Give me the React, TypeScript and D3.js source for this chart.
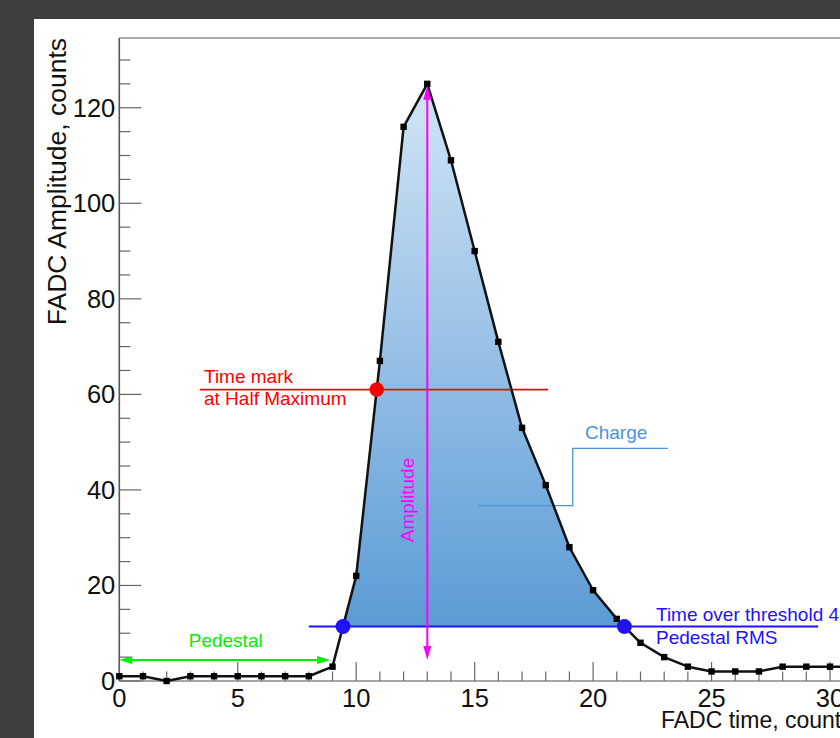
import * as d3 from "d3";

// FADC samples (time bins and amplitude in counts)
const fadcTime = [0, 1, 2, 3, 4, 5, 6, 7, 8, 9, 10, 11, 12, 13, 14, 15, 16, 17, 18, 19, 20, 21, 22, 23, 24, 25, 26, 27, 28, 29, 30, 31];
const fadcAmp = [1, 1, 0, 1, 1, 1, 1, 1, 1, 3, 22, 67, 116, 125, 109, 90, 71, 53, 41, 28, 19, 13, 8, 5, 3, 2, 2, 2, 3, 3, 3, 3];

const xTickLabels = [0, 5, 10, 15, 20, 25, 30];
const yTickLabels = [0, 20, 40, 60, 80, 100, 120];

// annotation levels (data units)
const pedestalLevel = 4.4;
const pedestalEnd = 8.9;
const thresholdLevel = 11.4;
const thresholdSpan = [8, 29.5];
const halfMaxLevel = 61;
const halfMaxSpan = [3.4, 18.1];
const amplitudeBottom = 4.4;
const chargeLeader = [
  [15.14, 36.7],
  [19.14, 36.7],
  [19.14, 48.7],
  [23.15, 48.7],
];

const W = 840;
const H = 738;
const font = "'Liberation Sans', Arial, Helvetica, sans-serif";

const pts = fadcTime.map((t, i) => ({ t, v: fadcAmp[i] }));

// find where the polyline crosses a level, searching from index i0 in direction dir
function crossing(level: number, i0: number, dir: number) {
  for (let i = i0; i + dir >= 0 && i + dir < pts.length; i += dir) {
    const a = pts[i], b = pts[i + dir];
    if ((a.v - level) * (b.v - level) <= 0 && a.v !== b.v) {
      const f = (level - a.v) / (b.v - a.v);
      return a.t + f * (b.t - a.t);
    }
  }
  return 0;
}

function arrowHead(tx: number, ty: number, dx: number, dy: number, len: number, hw: number) {
  const bx = tx - dx * len, by = ty - dy * len;
  const px = -dy * hw, py = dx * hw;
  return `${tx},${ty} ${bx + px},${by + py} ${bx - px},${by - py}`;
}

export default function App() {
  const x = d3.scaleLinear().domain([0, 32]).range([119.3, 877.4]);
  const y = d3.scaleLinear().domain([0, 134.6]).range([681, 38]);

  const peakIdx = fadcAmp.indexOf(d3.max(fadcAmp) as number);
  const thrLeft = crossing(thresholdLevel, peakIdx, -1);
  const thrRight = crossing(thresholdLevel, peakIdx, 1);
  const halfLeft = crossing(halfMaxLevel, peakIdx, -1);

  const line = d3
    .line<{ t: number; v: number }>()
    .x((d) => x(d.t))
    .y((d) => y(d.v));

  const area = d3
    .area<{ t: number; v: number }>()
    .x((d) => x(d.t))
    .y0(y(thresholdLevel))
    .y1((d) => y(d.v));

  const xMinor = d3.range(0, 33, 1);
  const yMinor = d3.range(0, 135, 5);

  const axisColor = "#666";
  const magenta = "#ff00ff";
  const blue = "#2211ff";
  const red = "#ff0000";
  const green = "#00ee00";
  const chargeBlue = "#4a94dc";

  return (
    <svg width={W} height={H} style={{ position: "absolute", left: 0, top: 0, display: "block" }}>
      <defs>
        <linearGradient id="chargeFill" gradientUnits="userSpaceOnUse" x1={0} y1={y(125)} x2={0} y2={y(thresholdLevel)}>
          <stop offset="0%" stopColor="#d2e5f6" />
          <stop offset="100%" stopColor="#5b9bd5" />
        </linearGradient>
        <clipPath id="aboveThr">
          <rect x={x(thrLeft)} y={0} width={x(thrRight) - x(thrLeft)} height={y(thresholdLevel)} />
        </clipPath>
      </defs>

      <rect x={0} y={0} width={W} height={H} fill="#3f3f3f" />
      <rect x={34} y={19} width={W - 34} height={H - 19} fill="#ffffff" />

      {/* charge area */}
      <path d={area(pts) ?? ""} fill="url(#chargeFill)" clipPath="url(#aboveThr)" />

      {/* frame */}
      <line x1={x(0)} x2={W} y1={38} y2={38} stroke="#aaa" strokeWidth={2} />
      <line x1={x(0)} x2={x(0)} y1={38} y2={y(0)} stroke="#555" strokeWidth={1.6} />
      <line x1={x(0)} x2={W} y1={y(0)} y2={y(0)} stroke="#888" strokeWidth={1.6} />

      {/* y ticks */}
      {yMinor.map((v) => (
        <line
          key={"ym" + v}
          x1={x(0)}
          x2={x(0) + (v % 20 === 0 ? 22 : 11)}
          y1={y(v)}
          y2={y(v)}
          stroke={axisColor}
          strokeWidth={1.2}
        />
      ))}
      {yTickLabels.map((v) => (
        <text
          key={"yl" + v}
          x={x(0) - 4}
          y={y(v) + 9}
          textAnchor="end"
          fontFamily={font}
          fontSize={25.5}
          fill="#111"
        >
          {v}
        </text>
      ))}

      {/* x ticks */}
      {xMinor.map((t) => (
        <line
          key={"xm" + t}
          x1={x(t)}
          x2={x(t)}
          y1={y(0)}
          y2={y(0) - (t % 5 === 0 ? 19 : 9.5)}
          stroke={axisColor}
          strokeWidth={1.2}
        />
      ))}
      {xTickLabels.map((t) => (
        <text key={"xl" + t} x={x(t)} y={707} textAnchor="middle" fontFamily={font} fontSize={25.5} fill="#111">
          {t}
        </text>
      ))}

      {/* axis titles */}
      <text
        transform="translate(66,38) rotate(-90)"
        textAnchor="end"
        fontFamily={font}
        fontSize={26.5}
        fill="#111"
      >
        FADC Amplitude, counts
      </text>
      <text x={661} y={728} fontFamily={font} fontSize={23} fill="#111">
        FADC time, counts
      </text>

      {/* pedestal arrow */}
      <line x1={x(0) + 6} x2={x(pedestalEnd) - 6} y1={y(pedestalLevel)} y2={y(pedestalLevel)} stroke={green} strokeWidth={2} />
      <polygon points={arrowHead(x(0), y(pedestalLevel), -1, 0, 13, 4)} fill={green} />
      <polygon points={arrowHead(x(pedestalEnd), y(pedestalLevel), 1, 0, 13, 4)} fill={green} />
      <text x={(x(0) + x(pedestalEnd)) / 2 + 1} y={647} textAnchor="middle" fontFamily={font} fontSize={19} fill={green}>
        Pedestal
      </text>

      {/* threshold line */}
      <line x1={x(thresholdSpan[0])} x2={x(thresholdSpan[1])} y1={y(thresholdLevel)} y2={y(thresholdLevel)} stroke={blue} strokeWidth={2} />
      <text x={656} y={621} fontFamily={font} fontSize={19} fill={blue}>
        Time over threshold 4
      </text>
      <text x={656} y={644} fontFamily={font} fontSize={19} fill={blue}>
        Pedestal RMS
      </text>

      {/* half maximum line */}
      <line x1={x(halfMaxSpan[0])} x2={x(halfMaxSpan[1])} y1={y(halfMaxLevel)} y2={y(halfMaxLevel)} stroke={red} strokeWidth={1.6} />
      <text x={204} y={383} fontFamily={font} fontSize={19} fill={red}>
        Time mark
      </text>
      <text x={204} y={405} fontFamily={font} fontSize={19} fill={red}>
        at Half Maximum
      </text>

      {/* charge leader */}
      <path
        d={d3.line()(chargeLeader.map(([t, v]) => [x(t), y(v)] as [number, number])) ?? ""}
        fill="none"
        stroke={chargeBlue}
        strokeWidth={1.3}
      />
      <text x={585} y={439} fontFamily={font} fontSize={19} fill={chargeBlue}>
        Charge
      </text>

      {/* signal curve */}
      <path d={line(pts) ?? ""} fill="none" stroke="#111" strokeWidth={2.5} strokeLinejoin="round" />
      {pts.map((d) => (
        <rect key={"m" + d.t} x={x(d.t) - 3.2} y={y(d.v) - 3.2} width={6.4} height={6.4} fill="#000" />
      ))}

      {/* amplitude arrow */}
      <line x1={x(fadcTime[peakIdx])} x2={x(fadcTime[peakIdx])} y1={y(fadcAmp[peakIdx]) + 8} y2={y(amplitudeBottom) - 8} stroke={magenta} strokeWidth={2} />
      <polygon points={arrowHead(x(fadcTime[peakIdx]), y(fadcAmp[peakIdx]) + 2, 0, -1, 14, 4)} fill={magenta} />
      <polygon points={arrowHead(x(fadcTime[peakIdx]), y(amplitudeBottom), 0, 1, 14, 4)} fill={magenta} />
      <text transform="translate(414,500) rotate(-90)" textAnchor="middle" fontFamily={font} fontSize={19} fill={magenta}>
        Amplitude
      </text>

      {/* crossing markers */}
      <circle cx={x(halfLeft)} cy={y(halfMaxLevel)} r={7.3} fill={red} />
      <circle cx={x(thrLeft)} cy={y(thresholdLevel)} r={7.5} fill={blue} />
      <circle cx={x(thrRight)} cy={y(thresholdLevel)} r={7.5} fill={blue} />
    </svg>
  );
}
